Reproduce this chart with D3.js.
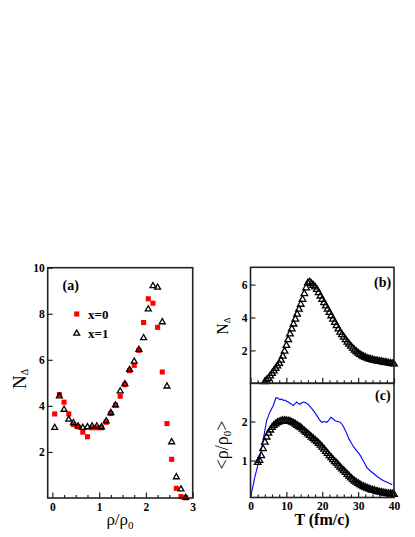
<!DOCTYPE html>
<html>
<head>
<meta charset="utf-8">
<script src="https://cdn.jsdelivr.net/npm/d3@7"></script>
<style>
  body { margin: 0; background: #fff; }
  text { font-family: "Liberation Serif", "Times New Roman", serif; }
</style>
</head>
<body>
<svg id="chart" width="415" height="537"></svg>
<script>
// panel (a): N_delta vs rho/rho0
const rhoA = [0.05, 0.15, 0.25, 0.35, 0.45, 0.55, 0.65, 0.75, 0.85, 0.95, 1.05, 1.15, 1.25, 1.35, 1.45,
  1.55, 1.65, 1.75, 1.85, 1.95, 2.05, 2.15, 2.25, 2.35, 2.45, 2.55, 2.65, 2.75, 2.85];
const nDeltaX0 = [3.65, 4.49, 4.16, 3.65, 3.19, 3.09, 2.86, 2.66, 3.05, 3.05, 3.05, 3.29, 3.67, 4.03, 4.42,
  4.92, 5.53, 5.76, 6.41, 7.62, 8.65, 8.46, 7.41, 5.47, 3.23, 1.68, 0.42, 0.06, 0.01];
const nDeltaX1 = [3.05, 4.42, 3.84, 3.41, 3.26, 3.12, 3.05, 3.08, 3.12, 3.12, 3.08, 3.34, 3.70, 4.03, 4.64,
  4.95, 5.57, 5.93, 6.44, 6.95, 8.20, 9.21, 9.14, 7.64, 4.85, 2.43, 0.91, 0.38, 0.01];
const legendA = ["x=0", "x=1"];

// panel (b): N_delta vs time
const timeB = [4, 4.5, 5, 5.5, 6, 6.5, 7, 7.5, 8, 8.5, 9, 9.5, 10, 10.5, 11, 11.5, 12, 12.5, 13, 13.5,
  14, 14.5, 15, 15.5, 16, 16.5, 17, 17.5, 18, 18.5, 19, 19.5, 20, 20.5, 21, 21.5, 22, 22.5, 23, 23.5,
  24, 24.5, 25, 25.5, 26, 26.5, 27, 27.5, 28, 28.5, 29, 29.5, 30, 30.5, 31, 31.5, 32, 32.5, 33, 33.5,
  34, 34.5, 35, 35.5, 36, 36.5, 37, 37.5, 38, 38.5, 39, 39.5, 40];
const nDeltaB = [0.1, 0.2, 0.3, 0.45, 0.6, 0.75, 0.9, 1.05, 1.2, 1.4, 1.65, 1.95, 2.3, 2.65, 3.0, 3.3, 3.6, 3.9, 4.2, 4.5,
  4.8, 5.1, 5.45, 5.8, 6.1, 6.15, 6.05, 5.95, 5.85, 5.7, 5.5, 5.3, 5.1, 4.9, 4.7, 4.5, 4.3, 4.1, 3.9, 3.7,
  3.5, 3.3, 3.1, 2.95, 2.8, 2.65, 2.5, 2.37, 2.25, 2.13, 2.02, 1.92, 1.83, 1.75, 1.68, 1.62, 1.57, 1.52, 1.48, 1.45,
  1.42, 1.39, 1.37, 1.35, 1.33, 1.31, 1.29, 1.27, 1.25, 1.23, 1.21, 1.19, 1.17];

// panel (c): mean density vs time
const timeC = [2, 2.5, 3, 3.5, 4, 4.5, 5, 5.5, 6, 6.5, 7, 7.5, 8, 8.5, 9, 9.5, 10, 10.5, 11, 11.5,
  12, 12.5, 13, 13.5, 14, 14.5, 15, 15.5, 16, 16.5, 17, 17.5, 18, 18.5, 19, 19.5, 20, 20.5, 21, 21.5,
  22, 22.5, 23, 23.5, 24, 24.5, 25, 25.5, 26, 26.5, 27, 27.5, 28, 28.5, 29, 29.5, 30, 30.5, 31, 31.5,
  32, 32.5, 33, 33.5, 34, 34.5, 35, 35.5, 36, 36.5, 37, 37.5, 38, 38.5, 39, 39.5, 40];
const rhoMeanC = [0.95, 1.0, 1.12, 1.3, 1.47, 1.6, 1.7, 1.78, 1.85, 1.9, 1.94, 1.97, 1.99, 2.01, 2.02, 2.02, 2.02, 2.01, 2.0, 1.98,
  1.96, 1.93, 1.9, 1.87, 1.84, 1.8, 1.76, 1.72, 1.68, 1.64, 1.6, 1.56, 1.52, 1.48, 1.44, 1.39, 1.34, 1.29, 1.23, 1.18,
  1.12, 1.07, 1.02, 0.97, 0.93, 0.88, 0.83, 0.78, 0.74, 0.69, 0.64, 0.6, 0.55, 0.51, 0.47, 0.44, 0.41, 0.38, 0.35, 0.33,
  0.31, 0.29, 0.27, 0.25, 0.24, 0.23, 0.21, 0.2, 0.19, 0.18, 0.17, 0.16, 0.15, 0.15, 0.14, 0.14, 0.13];
const timeBlue = [0, 1.2, 2.6, 3.5, 4.5, 5.4, 6.35, 7.1, 7.6, 8.2, 8.7, 9.15, 9.6, 10.1, 10.5, 11.0, 11.5, 11.95, 12.4, 12.9,
  13.3, 13.8, 14.3, 14.75, 15.4, 16.15, 16.8, 17.55, 18.5, 19.2, 19.9, 20.6, 21.3, 21.9, 22.4, 23.0, 23.6, 24.3, 25.0, 25.5,
  26.0, 26.7, 27.4, 28.1, 28.8, 29.7, 30.6, 31.5, 32.5, 33.4, 34.4, 35.3, 36.2, 37.1, 38.1, 38.8, 39.5];
const rhoBlue = [0.04, 0.57, 1.08, 1.51, 2.03, 2.24, 2.41, 2.61, 2.6, 2.56, 2.58, 2.54, 2.55, 2.52, 2.5, 2.47, 2.44, 2.41, 2.46, 2.5,
  2.46, 2.44, 2.48, 2.5, 2.48, 2.43, 2.36, 2.28, 2.15, 2.05, 1.98, 2.0, 1.98, 2.04, 2.11, 2.07, 2.02, 2.0, 1.98, 1.93,
  1.85, 1.72, 1.56, 1.45, 1.34, 1.24, 1.13, 0.98, 0.81, 0.73, 0.66, 0.59, 0.53, 0.48, 0.44, 0.41, 0.38];

// tick values
const ticksAX = [0, 1, 2, 3];
const minorAX = [0.25, 0.5, 0.75, 1.25, 1.5, 1.75, 2.25, 2.5, 2.75];
const ticksAY = [2, 4, 6, 8, 10];
const ticksT = [0, 10, 20, 30, 40];
const minorT = [2, 4, 6, 8, 12, 14, 16, 18, 22, 24, 26, 28, 32, 34, 36, 38];
const ticksBY = [2, 4, 6];
const ticksCY = [1, 2];

const svg = d3.select("#chart");

const xA = d3.scaleLinear().domain([-0.1, 3]).range([47.7, 192.7]);
const yA = d3.scaleLinear().domain([0, 10]).range([498, 267.7]);
const xT = d3.scaleLinear().domain([0, 40]).range([250.5, 394]);
const yB = d3.scaleLinear().domain([0, 7.05]).range([383.3, 267.3]);
const yC = d3.scaleLinear().domain([0.05, 2.98]).range([497.5, 383.3]);

function styleTicks(g) {
  g.select(".domain").remove();
  g.selectAll("line").attr("stroke", "#222").attr("stroke-width", 1.2);
  g.selectAll("text")
    .attr("font-family", "'Liberation Serif', serif")
    .attr("font-weight", "bold")
    .attr("font-size", 11.5)
    .attr("fill", "#000");
}

function bottomAxis(x, y0, major, minor, labels) {
  svg.append("g")
    .attr("transform", `translate(0,${y0})`)
    .call(d3.axisBottom(x).tickValues(minor).tickSize(-3).tickFormat(""))
    .call(styleTicks);
  svg.append("g")
    .attr("transform", `translate(0,${y0})`)
    .call(d3.axisBottom(x).tickValues(major).tickSize(-5.5).tickPadding(4.5)
      .tickFormat(labels ? d3.format("d") : ""))
    .call(styleTicks);
}

function leftAxis(y, x0, major) {
  svg.append("g")
    .attr("transform", `translate(${x0},0)`)
    .call(d3.axisLeft(y).tickValues(major).tickSize(-5).tickPadding(3).tickFormat(d3.format("d")))
    .call(styleTicks);
}

function frame(x, y) {
  svg.append("rect")
    .attr("x", x.range()[0])
    .attr("y", y.range()[1])
    .attr("width", x.range()[1] - x.range()[0])
    .attr("height", y.range()[0] - y.range()[1])
    .attr("fill", "none")
    .attr("stroke", "#222")
    .attr("stroke-width", 1.6);
}

const square = d3.symbol().type(d3.symbolSquare).size(26);
const triSmall = d3.symbol().type(d3.symbolTriangle).size(15);
const triBig = d3.symbol().type(d3.symbolTriangle).size(19);

// ---- panel (a)
bottomAxis(xA, 498, ticksAX, minorAX, true);
leftAxis(yA, 47.7, ticksAY);

svg.append("g").selectAll("path")
  .data(rhoA)
  .join("path")
  .attr("d", square)
  .attr("transform", (d, i) => `translate(${xA(d)},${yA(nDeltaX0[i])})`)
  .attr("fill", "#f00");

svg.append("g").selectAll("path")
  .data(rhoA)
  .join("path")
  .attr("d", triSmall)
  .attr("transform", (d, i) => `translate(${xA(d)},${yA(nDeltaX1[i])})`)
  .attr("fill", "none")
  .attr("stroke", "#000")
  .attr("stroke-width", 1.3);

frame(xA, yA);

// legend
svg.append("path").attr("d", square).attr("transform", "translate(76.7,314)").attr("fill", "#f00");
svg.append("path").attr("d", triSmall).attr("transform", "translate(76.7,333.5)")
  .attr("fill", "none").attr("stroke", "#000").attr("stroke-width", 1.3);
svg.selectAll(".legtext")
  .data(legendA)
  .join("text")
  .attr("x", 88)
  .attr("y", (d, i) => 318.5 + i * 19)
  .attr("font-size", 13)
  .attr("font-weight", "bold")
  .text(d => d);

svg.append("text").attr("x", 62.5).attr("y", 290).attr("font-size", 14).attr("font-weight", "bold").text("(a)");

// axis titles (a)
const ya = svg.append("text")
  .attr("transform", "translate(26,379) rotate(-90)")
  .attr("text-anchor", "middle")
  .attr("font-size", 19);
ya.append("tspan").text("N");
ya.append("tspan").attr("font-size", 10).attr("dy", 2).text("Δ");

const xa = svg.append("text")
  .attr("x", 120).attr("y", 525)
  .attr("text-anchor", "middle")
  .attr("font-size", 17);
xa.append("tspan").text("ρ/ρ");
xa.append("tspan").attr("font-size", 11).attr("dy", 4).text("0");

// ---- panel (b)
bottomAxis(xT, 383.3, ticksT, minorT, false);
leftAxis(yB, 250.5, ticksBY);

svg.append("g").selectAll("path")
  .data(timeB)
  .join("path")
  .attr("d", triBig)
  .attr("transform", (d, i) => `translate(${xT(d)},${yB(nDeltaB[i])})`)
  .attr("fill", "none")
  .attr("stroke", "#000")
  .attr("stroke-width", 1.3);

frame(xT, yB);
svg.append("text").attr("x", 374).attr("y", 287).attr("font-size", 14).attr("font-weight", "bold").text("(b)");

const yb = svg.append("text")
  .attr("transform", "translate(228,326) rotate(-90)")
  .attr("text-anchor", "middle")
  .attr("font-size", 16);
yb.append("tspan").text("N");
yb.append("tspan").attr("font-size", 9).attr("dy", 2).text("Δ");

// ---- panel (c)
bottomAxis(xT, 497.5, ticksT, minorT, true);
leftAxis(yC, 250.5, ticksCY);

const blueLine = d3.line()
  .x((d, i) => xT(timeBlue[i]))
  .y(d => yC(d));

svg.append("path")
  .datum(rhoBlue)
  .attr("fill", "none")
  .attr("stroke", "#00f")
  .attr("stroke-width", 1.1)
  .attr("d", blueLine);

svg.append("g").selectAll("path")
  .data(timeC)
  .join("path")
  .attr("d", triBig)
  .attr("transform", (d, i) => `translate(${xT(d)},${yC(rhoMeanC[i])})`)
  .attr("fill", "none")
  .attr("stroke", "#000")
  .attr("stroke-width", 1.3);

frame(xT, yC);
svg.append("text").attr("x", 375).attr("y", 400).attr("font-size", 14).attr("font-weight", "bold").text("(c)");

const yc = svg.append("text")
  .attr("transform", "translate(228,445) rotate(-90)")
  .attr("text-anchor", "middle")
  .attr("font-size", 18);
yc.append("tspan").text("<ρ/ρ");
yc.append("tspan").attr("font-size", 11).attr("dy", 3).text("0");
yc.append("tspan").attr("dy", -3).text(">");

svg.append("text")
  .attr("x", 322).attr("y", 525)
  .attr("text-anchor", "middle")
  .attr("font-size", 16)
  .attr("font-weight", "bold")
  .text("T (fm/c)");
</script>
</body>
</html>
